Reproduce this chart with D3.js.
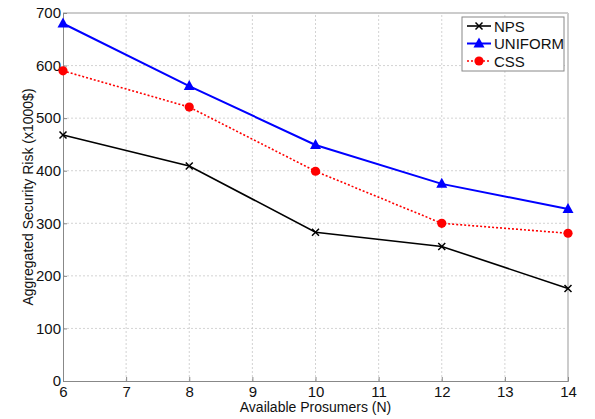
<!DOCTYPE html>
<html>
<head>
<meta charset="utf-8">
<script src="https://cdn.jsdelivr.net/npm/d3@7"></script>
<style>
  body { margin: 0; background: #fff; }
  svg { display: block; font-family: "Liberation Sans", Arial, sans-serif; }
</style>
</head>
<body>
<div id="chart"></div>
<script>
const prosumers = [6, 8, 10, 12, 14];
const nps = [468, 409, 283, 256, 176];
const uniform = [680, 561, 449, 375, 327];
const css = [590, 521, 399, 300, 281];
const xTicks = [6, 7, 8, 9, 10, 11, 12, 13, 14];
const yTicks = [0, 100, 200, 300, 400, 500, 600, 700];

const width = 595, height = 419;
const margin = {top: 13, right: 27, bottom: 38, left: 63};

const svg = d3.select('#chart').append('svg')
    .attr('width', width)
    .attr('height', height);

const x = d3.scaleLinear().domain([6, 14]).range([margin.left, width - margin.right]);
const y = d3.scaleLinear().domain([0, 700]).range([height - margin.bottom, margin.top]);

// grid
const grid = svg.append('g').attr('stroke', '#c8c8c8').attr('stroke-dasharray', '2,2').attr('stroke-width', 0.8);
grid.selectAll('.gx').data(xTicks.slice(1, -1)).join('line')
    .attr('x1', d => x(d)).attr('x2', d => x(d))
    .attr('y1', y(0)).attr('y2', y(700));
grid.selectAll('.gy').data(yTicks.slice(1, -1)).join('line')
    .attr('y1', d => y(d)).attr('y2', d => y(d))
    .attr('x1', x(6)).attr('x2', x(14));

// box
svg.append('line').attr('x1', x(6)).attr('x2', x(14)).attr('y1', y(700)).attr('y2', y(700)).attr('stroke', '#999');
svg.append('line').attr('x1', x(14)).attr('x2', x(14)).attr('y1', y(0)).attr('y2', y(700)).attr('stroke', '#ccc').attr('stroke-width', 2);

// axes
const xAxis = svg.append('g')
    .attr('transform', `translate(0,${y(0)})`)
    .call(d3.axisBottom(x).tickValues(xTicks).tickSize(-4).tickPadding(5).tickFormat(d3.format('d')));
const yAxis = svg.append('g')
    .attr('transform', `translate(${x(6)},0)`)
    .call(d3.axisLeft(y).tickValues(yTicks).tickSize(-4).tickPadding(2));
[xAxis, yAxis].forEach(a => {
    a.select('.domain').attr('stroke', '#888');
    a.selectAll('.tick line').attr('stroke', '#888');
    a.selectAll('.tick text').attr('font-size', 15).attr('fill', '#111').attr('font-family', '"Liberation Sans", Arial, sans-serif');
});

svg.append('text')
    .attr('x', (x(6) + x(14)) / 2).attr('y', 412)
    .attr('text-anchor', 'middle').attr('font-size', 14).attr('fill', '#111')
    .text('Available Prosumers (N)');
svg.append('text')
    .attr('transform', `translate(33,${(y(0) + y(700)) / 2}) rotate(-90)`)
    .attr('text-anchor', 'middle').attr('font-size', 14).attr('fill', '#111')
    .text('Aggregated Security Risk (x1000$)');

const series = [
    {name: 'NPS', values: nps, color: '#000', width: 1.6, dash: null, marker: 'x'},
    {name: 'UNIFORM', values: uniform, color: '#0000ff', width: 2, dash: null, marker: 'tri'},
    {name: 'CSS', values: css, color: '#ff0000', width: 1.6, dash: '2,2', marker: 'dot'}
];

const line = d3.line().x((d, i) => x(prosumers[i])).y(d => y(d));

function drawMarker(g, type, color) {
    if (type === 'x') {
        g.append('path').attr('d', 'M-3.5,-3.5L3.5,3.5M-3.5,3.5L3.5,-3.5')
            .attr('stroke', color).attr('stroke-width', 1.5);
    } else if (type === 'tri') {
        g.append('path').attr('d', 'M0,-6L5.5,4L-5.5,4Z').attr('fill', color);
    } else {
        g.append('circle').attr('r', 4.6).attr('fill', color);
    }
}

series.forEach(s => {
    svg.append('path')
        .datum(s.values)
        .attr('d', line)
        .attr('fill', 'none')
        .attr('stroke', s.color)
        .attr('stroke-width', s.width)
        .attr('stroke-dasharray', s.dash);
    s.values.forEach((v, i) => {
        const g = svg.append('g').attr('transform', `translate(${x(prosumers[i])},${y(v)})`);
        drawMarker(g, s.marker, s.color);
    });
});

// legend
const legend = svg.append('g').attr('transform', 'translate(462,17)');
legend.append('rect').attr('width', 102).attr('height', 54)
    .attr('fill', '#fff').attr('stroke', '#888');
series.forEach((s, i) => {
    const row = legend.append('g').attr('transform', `translate(0,${9 + i * 17.5})`);
    row.append('line').attr('x1', 5).attr('x2', 29)
        .attr('stroke', s.color).attr('stroke-width', s.width).attr('stroke-dasharray', s.dash);
    const m = row.append('g').attr('transform', 'translate(17,0)');
    drawMarker(m, s.marker, s.color);
    row.append('text').attr('x', 32).attr('y', 5.5).attr('font-size', 15).attr('fill', '#111').text(s.name);
});
</script>
</body>
</html>
